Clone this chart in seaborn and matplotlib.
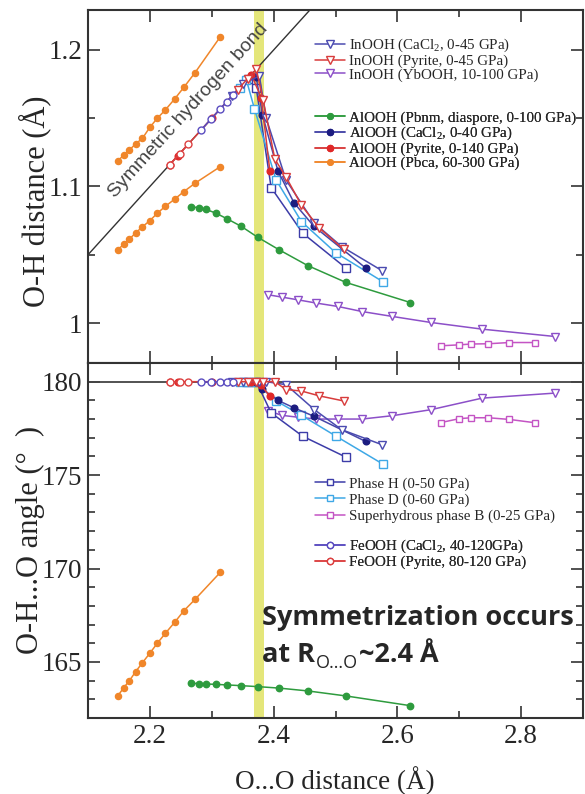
import matplotlib
matplotlib.use("Agg")
import matplotlib.pyplot as plt
from matplotlib.lines import Line2D
from matplotlib.ticker import MultipleLocator, FixedLocator, FixedFormatter
import seaborn as sns

# ---------------- data: O...O distance (Å), O-H distance (Å), O-H...O angle (deg)
inooh_cacl2_oo = [2.575, 2.51, 2.466, 2.42, 2.388, 2.377, 2.35, 2.333]
inooh_cacl2_oh = [1.0384, 1.056, 1.0731, 1.1048, 1.15, 1.181, 1.175, 1.1665]
inooh_cacl2_ang = [176.63, 177.43, 178.5, 179.84, 180.0, 180.0, 180.0, 180.0]

inooh_pyrite_oo = [2.513, 2.474, 2.445, 2.42, 2.402, 2.383, 2.372, 2.358, 2.342]
inooh_pyrite_oh = [1.054, 1.0695, 1.0862, 1.107, 1.12, 1.1634, 1.1859, 1.179, 1.171]
inooh_pyrite_ang = [178.97, 179.24, 179.5, 179.58, 180.0, 180.0, 180.0, 180.0, 180.0]

inooh_yb_oo = [2.391, 2.413, 2.439, 2.469, 2.504, 2.543, 2.592, 2.654, 2.737, 2.855]
inooh_yb_oh = [1.0207, 1.019, 1.017, 1.0146, 1.0121, 1.0084, 1.0048, 1.0004, 0.9955, 0.9901]
inooh_yb_ang = [178.45, 178.2, 178.1, 178.0, 178.0, 178.0, 178.18, 178.5, 179.12, 179.39]

alooh_pbnm_oo = [2.267, 2.279, 2.291, 2.307, 2.325, 2.348, 2.374, 2.409, 2.455, 2.517, 2.621]
alooh_pbnm_oh = [1.0853, 1.0843, 1.0832, 1.0804, 1.0763, 1.0707, 1.0629, 1.0536, 1.0421, 1.0297, 1.015]
alooh_pbnm_ang = [163.86, 163.84, 163.82, 163.8, 163.77, 163.73, 163.68, 163.6, 163.45, 163.18, 162.66]

alooh_cacl2_oo = [2.549, 2.465, 2.433, 2.407, 2.382, 2.372]
alooh_cacl2_oh = [1.0402, 1.0709, 1.088, 1.1114, 1.1524, 1.18]
alooh_cacl2_ang = [176.8, 178.15, 178.6, 179.0, 179.6, 180.0]

alooh_pyrite_oo = [2.394, 2.38, 2.364, 2.3, 2.245, 2.232]
alooh_pyrite_oh = [1.111, 1.165, 1.182, 1.15, 1.1225, 1.116]
alooh_pyrite_ang = [179.22, 179.8, 180.0, 180.0, 180.0, 180.0]

alooh_pbca_oo = [2.148, 2.158, 2.167, 2.177, 2.188, 2.2, 2.212, 2.225, 2.24, 2.255, 2.273, 2.314]
alooh_pbca_oh1 = [1.1187, 1.1231, 1.1268, 1.1312, 1.1353, 1.1434, 1.15, 1.1561, 1.1641, 1.1727, 1.1834, 1.2098]
alooh_pbca_oh2 = [1.0536, 1.0578, 1.0615, 1.066, 1.0705, 1.075, 1.0804, 1.0855, 1.0907, 1.0963, 1.1024, 1.1146]
alooh_pbca_ang = [163.18, 163.63, 164.0, 164.48, 164.96, 165.47, 166.0, 166.53, 167.12, 167.74, 168.35, 169.8]

phase_h_oo = [2.517, 2.447, 2.396, 2.372, 2.358]
phase_h_oh = [1.0402, 1.0658, 1.0992, 1.172, 1.179]
phase_h_ang = [175.96, 177.08, 178.33, 180.0, 180.0]

phase_d_oo = [2.576, 2.5, 2.445, 2.404, 2.369, 2.356, 2.345]
phase_d_oh = [1.0304, 1.0516, 1.0743, 1.1048, 1.157, 1.178, 1.1725]
phase_d_ang = [175.6, 177.1, 178.2, 178.97, 180.0, 180.0, 180.0]

shy_b_oo = [2.67, 2.7, 2.719, 2.747, 2.781, 2.823]
shy_b_oh = [0.9833, 0.984, 0.9846, 0.9848, 0.9857, 0.9857]
shy_b_ang = [177.81, 178.02, 178.07, 178.07, 177.98, 177.8]

feooh_cacl2_oo = [2.283, 2.299, 2.313, 2.324, 2.334]
feooh_cacl2_oh = [1.1415, 1.1495, 1.1565, 1.162, 1.167]
feooh_cacl2_ang = [180.0, 180.0, 180.0, 180.0, 180.0]

feooh_pyrite_oo = [2.232, 2.248, 2.262]
feooh_pyrite_oh = [1.116, 1.124, 1.131]
feooh_pyrite_ang = [180.0, 180.0, 180.0]

symmetric_slope = 0.5           # O-H = R(O...O) / 2
symmetric_anchor = (2.1, 1.05)
symmetrization_band = (2.369, 2.385)

# ---------------- styles
W, H = 585, 794
sns.set_style("ticks")
plt.rcParams["font.family"] = ["Liberation Serif", "DejaVu Serif"]
plt.rcParams["mathtext.default"] = "regular"

STY = {
    "inooh_cacl2": dict(lc="#4b4bb0", marker="v", ms=6, mfc="white", mec="#4b4bb0"),
    "inooh_pyrite": dict(lc="#d83c3c", marker="v", ms=6, mfc="white", mec="#d83c3c"),
    "inooh_yb": dict(lc="#8c4fc8", marker="v", ms=6, mfc="white", mec="#8c4fc8"),
    "alooh_pbnm": dict(lc="#2e9b3e", marker="o", ms=4.6, mfc="#2e9b3e", mec="#2e9b3e"),
    "alooh_cacl2": dict(lc="#4646a8", marker="o", ms=4.8, mfc="#1c1c80", mec="#1c1c80"),
    "alooh_pyrite": dict(lc="#d83c3c", marker="o", ms=4.8, mfc="#e02828", mec="#e02828"),
    "alooh_pbca": dict(lc="#f0862a", marker="o", ms=4.4, mfc="#f0862a", mec="#f0862a"),
    "phase_h": dict(lc="#3c3ca8", marker="s", ms=5.2, mfc="white", mec="#3c3ca8"),
    "phase_d": dict(lc="#3ea8e6", marker="s", ms=5.2, mfc="white", mec="#3ea8e6"),
    "shy_b": dict(lc="#c454c4", marker="s", ms=5.0, mfc="white", mec="#c454c4"),
    "feooh_cacl2": dict(lc="#5a4cc0", marker="o", ms=5.0, mfc="white", mec="#5a4cc0"),
    "feooh_pyrite": dict(lc="#dc4040", marker="o", ms=5.0, mfc="white", mec="#dc4040"),
}


def draw(ax, x, y, key, z=3):
    s = STY[key]
    sns.lineplot(x=x, y=y, ax=ax, sort=False, estimator=None, legend=False,
                 color=s["lc"], linewidth=1.1, marker=s["marker"],
                 markersize=s["ms"], markerfacecolor=s["mfc"],
                 markeredgecolor=s["mec"], markeredgewidth=1.0, zorder=z)


fig = plt.figure(figsize=(W / 100, H / 100), dpi=100)
ax1 = fig.add_axes([88 / W, 1 - 363 / H, 495 / W, 353 / H])
ax2 = fig.add_axes([88 / W, 1 - 718 / H, 495 / W, 355 / H])

for ax in (ax1, ax2):
    ax.axvspan(*symmetrization_band, color="#e4e67a", lw=0, zorder=0)

ax1.axline(symmetric_anchor, slope=symmetric_slope, color="#333333", lw=1.0, zorder=1)
ax2.axhline(180, color="#444444", lw=1.3, zorder=1)

# top panel: O-H distance
draw(ax1, alooh_pbca_oo, alooh_pbca_oh1, "alooh_pbca")
draw(ax1, alooh_pbca_oo, alooh_pbca_oh2, "alooh_pbca")
draw(ax1, alooh_pbnm_oo, alooh_pbnm_oh, "alooh_pbnm")
draw(ax1, inooh_yb_oo, inooh_yb_oh, "inooh_yb")
draw(ax1, shy_b_oo, shy_b_oh, "shy_b")
draw(ax1, phase_h_oo, phase_h_oh, "phase_h")
draw(ax1, phase_d_oo, phase_d_oh, "phase_d")
draw(ax1, alooh_cacl2_oo, alooh_cacl2_oh, "alooh_cacl2")
draw(ax1, alooh_pyrite_oo, alooh_pyrite_oh, "alooh_pyrite")
draw(ax1, inooh_cacl2_oo, inooh_cacl2_oh, "inooh_cacl2")
draw(ax1, inooh_pyrite_oo, inooh_pyrite_oh, "inooh_pyrite")
draw(ax1, feooh_cacl2_oo, feooh_cacl2_oh, "feooh_cacl2")
draw(ax1, feooh_pyrite_oo, feooh_pyrite_oh, "feooh_pyrite")

# bottom panel: O-H...O angle
draw(ax2, alooh_pbca_oo, alooh_pbca_ang, "alooh_pbca")
draw(ax2, alooh_pbnm_oo, alooh_pbnm_ang, "alooh_pbnm")
draw(ax2, inooh_yb_oo, inooh_yb_ang, "inooh_yb")
draw(ax2, shy_b_oo, shy_b_ang, "shy_b")
draw(ax2, phase_h_oo, phase_h_ang, "phase_h")
draw(ax2, phase_d_oo, phase_d_ang, "phase_d")
draw(ax2, alooh_cacl2_oo, alooh_cacl2_ang, "alooh_cacl2")
draw(ax2, alooh_pyrite_oo, alooh_pyrite_ang, "alooh_pyrite")
draw(ax2, inooh_cacl2_oo, inooh_cacl2_ang, "inooh_cacl2")
draw(ax2, inooh_pyrite_oo, inooh_pyrite_ang, "inooh_pyrite")
draw(ax2, feooh_cacl2_oo, feooh_cacl2_ang, "feooh_cacl2")
draw(ax2, feooh_pyrite_oo, feooh_pyrite_ang, "feooh_pyrite")

# axes, ticks, spines
for ax in (ax1, ax2):
    ax.set_xlim(2.1, 2.9)
    ax.xaxis.set_major_locator(MultipleLocator(0.2))
    ax.xaxis.set_minor_locator(MultipleLocator(0.1))
    ax.tick_params(which="both", direction="in", top=True, right=True,
                   color="#333333", width=1.2, labelsize=19.5, pad=4)
    ax.tick_params(which="major", length=8.5)
    ax.tick_params(which="minor", length=5)
    for sp in ax.spines.values():
        sp.set_color("#333333")
        sp.set_linewidth(1.5)
    ax.set_xlabel("")
    ax.set_ylabel("")

ax1.set_ylim(0.9707, 1.2293)
ax1.yaxis.set_major_locator(FixedLocator([1.0, 1.1, 1.2]))
ax1.yaxis.set_major_formatter(FixedFormatter(["1", "1.1", "1.2"]))
ax1.yaxis.set_minor_locator(MultipleLocator(0.05))
ax1.tick_params(axis="x", labelbottom=False)

ax2.set_ylim(162, 181.0)
ax2.yaxis.set_major_locator(MultipleLocator(5))
ax2.yaxis.set_minor_locator(MultipleLocator(1))
ax2.xaxis.set_major_formatter(FixedFormatter(["2.2", "2.4", "2.6", "2.8"]))
ax2.xaxis.set_major_locator(FixedLocator([2.2, 2.4, 2.6, 2.8]))

# labels
fig.text(35 / W, 1 - 201 / H, "O-H distance (Å)", rotation=90, ha="center", va="center", fontsize=22)
fig.text(30 / W, 1 - 540 / H, "O-H...O angle (°  )", rotation=90, ha="center", va="center", fontsize=22)
fig.text(335 / W, 1 - 781 / H, "O...O distance (Å)", ha="center", va="center", fontsize=19.5)

ax1.text(2.262, 1.1555, "Symmetric hydrogen bond", rotation=26.565,
         transform_rotates_text=True, rotation_mode="anchor",
         ha="center", va="center", fontsize=14, color="#444444",
         family=["Liberation Sans", "DejaVu Sans"], zorder=2)

# annotation: two lines, the second with a subscript placed from measured extents
bold_family = ["Open Sans", "DejaVu Sans"]
renderer = fig.canvas.get_renderer()
fig.text(262 / W, 1 - 625 / H, "Symmetrization occurs", ha="left", va="baseline",
         fontsize=19.5, fontweight="bold", family=bold_family)
t_at = fig.text(262 / W, 1 - 662 / H, "at R", ha="left", va="baseline",
                fontsize=19.5, fontweight="bold", family=bold_family)
bb = t_at.get_window_extent(renderer=renderer)
t_sub = fig.text((bb.x1 + 1) / W, 1 - 668 / H, "O\u2026O", ha="left", va="baseline",
                 fontsize=13, fontweight="normal", family=bold_family)
bb2 = t_sub.get_window_extent(renderer=renderer)
fig.text((bb2.x1 + 1) / W, 1 - 662 / H, "~2.4 Å", ha="left", va="baseline",
         fontsize=19.5, fontweight="bold", family=bold_family)


def add_legend(ax, keys, labels, x_px, y_px, spacing):
    handles = []
    for k in keys:
        s = STY[k]
        handles.append(Line2D([], [], color=s["lc"], lw=1.1, marker=s["marker"],
                              markersize=s["ms"] * 0.9, markerfacecolor=s["mfc"],
                              markeredgecolor=s["mec"], markeredgewidth=1.0))
    leg = ax.legend(handles, labels, loc="upper left",
                    bbox_to_anchor=(x_px / W, 1 - y_px / H), bbox_transform=fig.transFigure,
                    frameon=False, fontsize=10.8, handlelength=2.0, handletextpad=0.27,
                    labelspacing=spacing, borderpad=0, borderaxespad=0, numpoints=1)
    ax.add_artist(leg)


add_legend(ax1, ["inooh_cacl2", "inooh_pyrite", "inooh_yb"],
           ["InOOH (CaCl$_2$, 0-45 GPa)", "InOOH (Pyrite, 0-45 GPa)", "InOOH (YbOOH, 10-100 GPa)"],
           315, 37, 0.0)
add_legend(ax1, ["alooh_pbnm", "alooh_cacl2", "alooh_pyrite", "alooh_pbca"],
           ["AlOOH (Pbnm, diaspore, 0-100 GPa)", "AlOOH (CaCl$_2$, 0-40 GPa)",
            "AlOOH (Pyrite, 0-140 GPa)", "AlOOH (Pbca, 60-300 GPa)"],
           315, 111, 0.02)
add_legend(ax2, ["phase_h", "phase_d", "shy_b"],
           ["Phase H (0-50 GPa)", "Phase D (0-60 GPa)", "Superhydrous phase B (0-25 GPa)"],
           315, 477, 0.17)
add_legend(ax2, ["feooh_cacl2", "feooh_pyrite"],
           ["FeOOH (CaCl$_2$, 40-120GPa)", "FeOOH (Pyrite, 80-120 GPa)"],
           315, 538, 0.02)

fig.savefig("out.png", dpi=100)
